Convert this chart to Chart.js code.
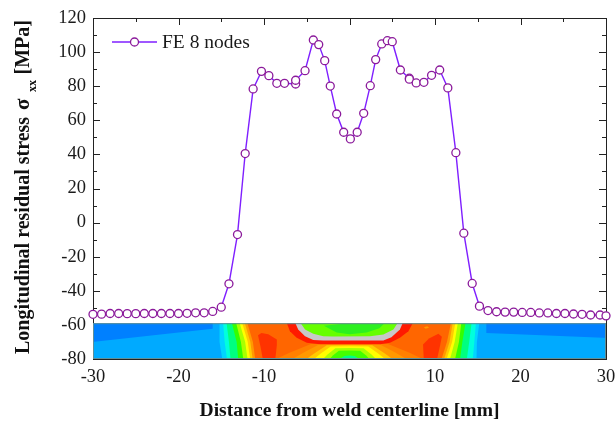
<!DOCTYPE html>
<html>
<head>
<meta charset="utf-8">
<title>Longitudinal residual stress</title>
<script src="https://cdn.jsdelivr.net/npm/chart.js@4/dist/chart.umd.min.js"></script>
<style>
  html, body { margin: 0; padding: 0; background: #fff; }
  #box { width: 616px; height: 423px; }
</style>
</head>
<body>
<div id="box"><canvas id="chart"></canvas></div>
<script>
const seriesLabel = "FE 8 nodes"
const xLabel = "Distance from weld centerline [mm]"
const yLabelParts = ["Longitudinal residual stress ", "\u03c3", "xx", "[MPa]"]

const distance = [-30, -29, -28, -27, -26, -25, -24, -23, -22, -21, -20, -19, -18, -17, -16, -15,
  -14.1, -13.1, -12.2, -11.27, -10.3, -9.43, -8.5, -7.6, -6.3, -6.3, -5.2, -4.23, -3.6, -2.9, -2.25, -1.5, -0.68,
  0.1, 0.9, 1.66, 2.43, 3.06, 3.77, 4.43, 5, 5.95, 7, 7, 7.8, 8.7, 9.6, 10.55, 11.5, 12.44,
  13.37, 14.35, 15.2, 16.2, 17.2, 18.2, 19.2, 20.2, 21.2, 22.2, 23.2, 24.2, 25.2, 26.2, 27.2, 28.2, 29.3, 30]
const stress = [-53.8, -53.7, -53.3, -53.3, -53.4, -53.4, -53.3, -53.3, -53.3, -53.3, -53.3, -53.2, -52.9, -52.9, -52.1, -49.6,
  -35.9, -7, 40.5, 78.4, 88.7, 86.2, 81.7, 81.7, 81.3, 83.5, 89.1, 107.1, 104.4, 95, 80.1, 63.7, 53,
  49.1, 53, 64.1, 80.3, 95.6, 104.8, 106.7, 106.1, 89.5, 84.7, 84.1, 81.9, 82.3, 86.4, 89.5, 79, 41,
  -6.2, -35.7, -49, -51.6, -52.3, -52.5, -52.5, -52.7, -52.7, -53, -53, -53.3, -53.3, -53.6, -53.8, -54.2, -54.2, -54.7]

const xMinorTicks = [-25, -15, -5, 5, 15, 25]
const xMajorTicks = [-30, -20, -10, 0, 10, 20, 30]
const yMinorTicks = [-50, -30, -10, 10, 30, 50, 70, 90, 110]
const yMajorTicks = [-40, -20, 0, 20, 40, 60, 80, 100, 120]

// contour strip under the curve, in axis units
const stripTop = -59
const stripMid = -70
const stripBottom = -80
const bandColors = ["#00d5ff", "#00ffdd", "#00ff80", "#33ff00", "#aaff00", "#ffff00", "#ffcc00", "#ff9900", "#ff6600"]
const leftEdgeTop = [-15.2, -14.8, -14.4, -13.8, -13.3, -12.9, -12.6, -12.3, -12]
const leftEdgeMid = [-15.2, -14.6, -14.1, -13.2, -12.7, -12.2, -11.9, -11.6, -11.3]
const leftEdgeBottom = [-14.85, -14.3, -13.9, -13, -12.4, -11.9, -11.6, -11.3, -11]
const rightEdgeTop = [15.2, 14.8, 14.3, 13.6, 13.1, 12.7, 12.4, 12.1, 11.9]
const rightEdgeMid = [14.9, 14.6, 14, 13.2, 12.8, 12.3, 12, 11.7, 11.4]
const rightEdgeBottom = [14.85, 14.4, 13.7, 12.9, 12.3, 11.7, 11.3, 11, 10.7]

const darkBlueLeft = [[-31, -58], [-16, -58], [-16, -62.3], [-31, -70.6]]
const darkBlueRight = [[16, -58], [31, -58], [31, -67.8], [16, -64.8]]
const blobLeft = [[-10.7, -66], [-10.3, -64.8], [-9.5, -65.5], [-8.5, -68.5], [-8.5, -72], [-8.7, -81], [-10.1, -81], [-10.4, -73]]
const blobRight = [[8.6, -71.5], [9.3, -68], [10.4, -65.2], [10.8, -67], [10.6, -72], [10.2, -81], [8.7, -81]]
const spotRight = [[8.7, -61.4], [9.1, -60.8], [9.3, -61.6], [8.9, -62.2]]
const domeHalfWidths = [9, 7, 5.3, 4.4, 3.3, 2.5, 1.2]
const domeTops = [-71, -71.2, -71.8, -72.5, -73.5, -75, -78]
const domeColors = ["#ff8000", "#ff9900", "#ffcc00", "#ffff00", "#aaff00", "#44ff00", "#00ff88"]
const redOuter = [[-7.4, -58], [-6.97, -63.7], [-6.18, -67.6], [-5, -70.5], [-3.45, -71.3], [3.57, -71.3], [4.74, -70.5], [5.9, -67.6], [6.89, -63.7], [7.5, -58]]
const greyOuter = [[-6.42, -58], [-6, -62.7], [-5.2, -66.6], [-4.24, -68.8], [-3.07, -69.1], [3.07, -69.1], [3.96, -69.1], [4.9, -67.2], [5.9, -62.7], [6.3, -58]]
const greenInner = [[-5.85, -58], [-5.2, -62.7], [-4.24, -65.2], [-3.07, -66.6], [-1.9, -66.8], [2.4, -66.6], [3.96, -65.6], [5.13, -62.7], [5.75, -58]]
const greenCore = [[-3, -60.5], [-1.5, -64.5], [0, -65.5], [2, -64.5], [3.5, -62], [4, -59.5], [-1, -59.5]]

const contourStrip = {
  id: "contourStrip",
  beforeDatasetsDraw(chart) {
    const { ctx, scales: { x, y } } = chart
    const poly = (pts, color) => {
      ctx.fillStyle = color
      ctx.beginPath()
      pts.forEach((p, i) => {
        if (i == 0) ctx.moveTo(x.getPixelForValue(p[0]), y.getPixelForValue(p[1]))
        else ctx.lineTo(x.getPixelForValue(p[0]), y.getPixelForValue(p[1]))
      })
      ctx.closePath()
      ctx.fill()
    }
    const left = x.getPixelForValue(-30), right = x.getPixelForValue(30)
    const top = y.getPixelForValue(stripTop), bottom = y.getPixelForValue(stripBottom)
    const over = stripTop + 1, under = stripBottom - 1

    ctx.save()
    ctx.beginPath()
    ctx.rect(left, top, right - left, bottom - top)
    ctx.clip()
    ctx.filter = "blur(0.7px)"

    poly([[-31, over], [31, over], [31, under], [-31, under]], "#00aaff")
    poly(darkBlueLeft, "#0080ff")
    poly(darkBlueRight, "#0080ff")
    bandColors.forEach((color, i) => {
      poly([[leftEdgeTop[i], over], [leftEdgeMid[i], stripMid], [leftEdgeBottom[i], under], [0, under], [0, over]], color)
      poly([[rightEdgeTop[i], over], [rightEdgeMid[i], stripMid], [rightEdgeBottom[i], under], [0, under], [0, over]], color)
    })
    poly(blobLeft, "#ff3300")
    poly(blobRight, "#ff3300")
    poly(spotRight, "#ff9900")
    domeColors.forEach((color, i) => {
      const w = domeHalfWidths[i], t = domeTops[i]
      poly([[-w, under], [-w * 0.78, t - (t - stripBottom) * 0.6], [-w * 0.5, t - 0.2], [0, t], [w * 0.5, t - 0.2], [w * 0.78, t - (t - stripBottom) * 0.6], [w, under]], color)
    })
    poly(redOuter, "#ff1a00")
    poly(greyOuter, "#c8c8c8")
    poly(greenInner, "#66ff00")
    poly(greenCore, "#2cf020")
    ctx.restore()

    ctx.save()
    ctx.strokeStyle = "#5f8f98"
    ctx.lineWidth = 1
    ctx.strokeRect(left + 0.5, top + 0.5, right - left - 1, bottom - top - 1)
    ctx.restore()
  }
}

const frameAndTicks = {
  id: "frameAndTicks",
  beforeDraw(chart) {
    const { ctx, chartArea: a, scales: { x, y } } = chart
    ctx.save()
    ctx.strokeStyle = "#222"
    ctx.lineWidth = 1
    ctx.beginPath()
    const tickX = (v, len) => {
      const p = Math.round(x.getPixelForValue(v)) + 0.5
      ctx.moveTo(p, a.top); ctx.lineTo(p, a.top + len)
    }
    const tickY = (v, len) => {
      const p = Math.round(y.getPixelForValue(v)) + 0.5
      ctx.moveTo(a.left, p); ctx.lineTo(a.left + len, p)
      ctx.moveTo(a.right, p); ctx.lineTo(a.right - len, p)
    }
    xMajorTicks.forEach(v => tickX(v, 7))
    xMinorTicks.forEach(v => tickX(v, 4))
    yMajorTicks.forEach(v => tickY(v, 7))
    yMinorTicks.forEach(v => tickY(v, 4))
    ctx.stroke()
    ctx.strokeRect(Math.round(a.left) + 0.5, Math.round(a.top) + 0.5, Math.round(a.right - a.left), Math.round(a.bottom - a.top))
    ctx.restore()
  }
}

const sideText = {
  id: "sideText",
  afterDraw(chart) {
    const { ctx } = chart
    // y title has a subscript, so it goes piece by piece
    ctx.save()
    ctx.translate(28.5, 354)
    ctx.rotate(-Math.PI / 2)
    ctx.fillStyle = "#111"
    ctx.textBaseline = "alphabetic"
    ctx.font = "bold 20px 'Liberation Serif'"
    ctx.fillText(yLabelParts[0], 0, 0)
    ctx.font = "bold 21px 'Liberation Serif'"
    ctx.fillText(yLabelParts[1], 244, 0)
    ctx.font = "bold 12px 'Liberation Serif'"
    ctx.fillText(yLabelParts[2], 262, 7.5)
    ctx.font = "bold 20px 'Liberation Serif'"
    ctx.textAlign = "right"
    ctx.fillText(yLabelParts[3], 334, 0)
    ctx.restore()

    // legend sample: line with the marker in the middle
    ctx.save()
    ctx.strokeStyle = "#7f1fff"
    ctx.lineWidth = 1.4
    ctx.beginPath()
    ctx.moveTo(112, 42)
    ctx.lineTo(157, 42)
    ctx.stroke()
    ctx.fillStyle = "#fff"
    ctx.strokeStyle = "#8b1a9b"
    ctx.lineWidth = 1.3
    ctx.beginPath()
    ctx.arc(134.5, 42, 4, 0, Math.PI * 2)
    ctx.fill()
    ctx.stroke()
    ctx.fillStyle = "#1a1a1a"
    ctx.font = "19.5px 'Liberation Serif'"
    ctx.textBaseline = "alphabetic"
    ctx.fillText(seriesLabel, 162, 48)
    ctx.restore()
  }
}

new Chart(document.getElementById("chart").getContext("2d"), {
  type: "scatter",
  data: {
    datasets: [{
      label: seriesLabel,
      data: distance.map((d, i) => ({ x: d, y: stress[i] })),
      showLine: true,
      borderColor: "#7f1fff",
      borderWidth: 1.4,
      pointRadius: 4,
      pointBorderWidth: 1.3,
      pointBorderColor: "#8b1a9b",
      pointBackgroundColor: "#fff",
      clip: false
    }]
  },
  options: {
    responsive: true,
    maintainAspectRatio: false,
    animation: false,
    layout: { autoPadding: false, padding: { top: 18, right: 10, left: 0, bottom: 0 } },
    plugins: { legend: { display: false }, tooltip: { enabled: false } },
    scales: {
      x: {
        min: -30, max: 30,
        afterFit: scale => { scale.height = 64; scale.paddingRight = 0; scale.paddingLeft = 0 },
        grid: { display: false, drawTicks: false },
        border: { display: false },
        ticks: { stepSize: 10, padding: 7, maxRotation: 0, color: "#1a1a1a", font: { family: "'Liberation Serif'", size: 18.5 } },
        title: { display: true, text: xLabel, color: "#111", padding: { top: 11, bottom: 0 }, font: { family: "'Liberation Serif'", size: 19.6, weight: "bold" } }
      },
      y: {
        min: -80, max: 120,
        afterFit: scale => { scale.width = 93; scale.paddingTop = 0; scale.paddingBottom = 0 },
        grid: { display: false, drawTicks: false },
        border: { display: false },
        ticks: { stepSize: 20, padding: 7, color: "#1a1a1a", font: { family: "'Liberation Serif'", size: 18.5 } }
      }
    }
  },
  plugins: [frameAndTicks, contourStrip, sideText]
})
</script>
</body>
</html>
